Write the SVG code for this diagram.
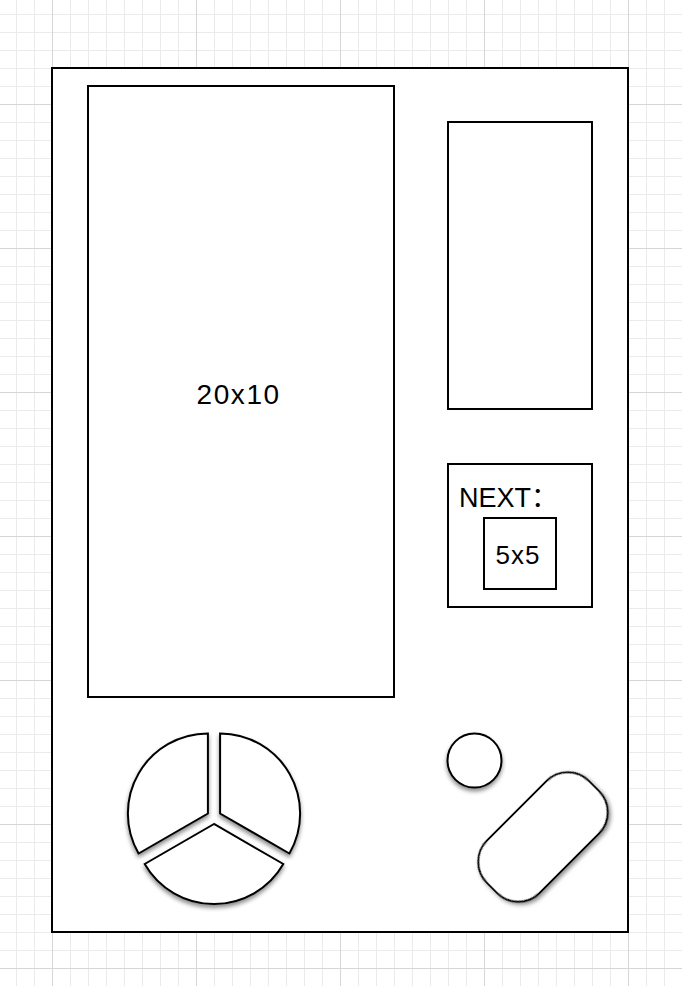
<svg xmlns="http://www.w3.org/2000/svg" width="682" height="986" viewBox="0 0 682 986">
<style>
.box{fill:#ffffff;stroke:#000000;stroke-width:2}
.shape{fill:#ffffff;stroke:#000000;stroke-width:2;filter:url(#shadow)}
.lbl{font-family:"Liberation Sans",Arial,"Noto Sans CJK SC",sans-serif;fill:#000000}
</style>
<defs>
<pattern id="grid" patternUnits="userSpaceOnUse" x="52" y="104" width="144" height="144">
<path d="M18.5 0V144M36.5 0V144M54.5 0V144M72.5 0V144M90.5 0V144M108.5 0V144M126.5 0V144M0 18.5H144M0 36.5H144M0 54.5H144M0 72.5H144M0 90.5H144M0 108.5H144M0 126.5H144" stroke="#ebebeb" stroke-width="1" fill="none"/>
<path d="M0.5 0V144M0 0.5H144" stroke="#d6d6d6" stroke-width="1" fill="none"/>
</pattern>
<filter id="shadow" x="-20%" y="-20%" width="140%" height="150%">
<feDropShadow dx="0" dy="3" stdDeviation="2" flood-color="#000000" flood-opacity="0.45"/>
</filter>
</defs>
<rect x="0" y="0" width="682" height="986" fill="#ffffff"/>
<rect x="0" y="0" width="682" height="986" fill="url(#grid)"/>
<g id="frame"><rect class="box" x="52" y="68" width="576" height="864"/></g>
<g id="board">
<rect class="box" x="88" y="86" width="306" height="611"/>
<text class="lbl" x="196.5" y="403.5" font-size="28" letter-spacing="1.6">20x10</text>
</g>
<g id="score"><rect class="box" x="448" y="122" width="144" height="287"/></g>
<g id="next">
<rect class="box" x="448" y="464" width="144" height="143"/>
<text class="lbl" x="459" y="507" font-size="27">NEXT：</text>
</g>
<g id="preview">
<rect class="box" x="484" y="518" width="72" height="71"/>
<text class="lbl" x="495.5" y="563.5" font-size="26" letter-spacing="1">5x5</text>
</g>
<g id="dpad">
<path class="shape" d="M207.9 813.5L207.9 733.5A80 80 0 0 0 138.6 853.5Z"/>
<path class="shape" d="M220.1 813.5L220.1 733.5A80 80 0 0 1 289.4 853.5Z"/>
<path class="shape" d="M214 824L144.7 864A80 80 0 0 0 283.3 864Z"/>
</g>
<g id="button-small"><circle class="shape" cx="474.5" cy="760.5" r="27"/></g>
<g id="button-large"><rect class="shape" x="-72" y="-37" width="144" height="74" rx="30" ry="30" transform="translate(543 837) rotate(-45)"/></g>
<g id="connectors"/>
</svg>
